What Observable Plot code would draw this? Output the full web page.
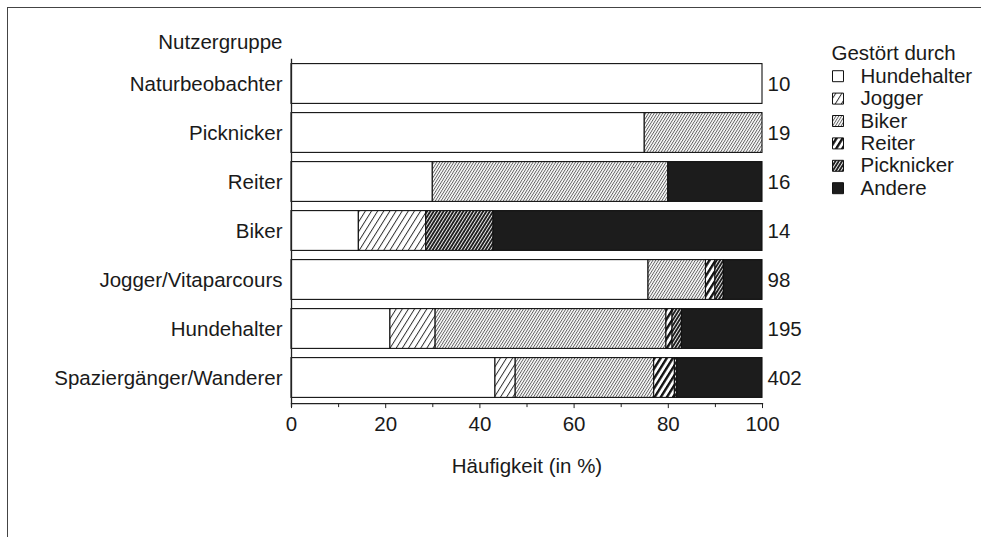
<!DOCTYPE html>
<html>
<head>
<meta charset="utf-8">
<script src="https://cdn.jsdelivr.net/npm/d3@7"></script>
<script src="https://cdn.jsdelivr.net/npm/@observablehq/plot@0.6"></script>
<style>
  html, body { margin: 0; padding: 0; background: #fff; }
  #wrap { position: relative; width: 981px; height: 537px; overflow: hidden; }
  #border { position: absolute; left: 7px; top: 7px; right: -5px; bottom: -5px;
            border-left: 1.5px solid #444; border-top: 1.5px solid #444; pointer-events: none; }
</style>
</head>
<body>
<div id="wrap"><div id="border"></div></div>
<script>
const groups = ["Naturbeobachter", "Picknicker", "Reiter", "Biker", "Jogger/Vitaparcours", "Hundehalter", "Spaziergänger/Wanderer"];
const ns = [10, 19, 16, 14, 98, 195, 402];
const causes = ["Hundehalter", "Jogger", "Biker", "Reiter", "Picknicker", "Andere"];
const hundehalter = [100, 75, 30, 14.3, 75.8, 21.0, 43.3];
const jogger      = [0,   0,  0,  14.3, 0,    9.6,  4.3];
const biker       = [0,   25, 50, 0,    12.2, 49.0, 29.4];
const reiter      = [0,   0,  0,  0,    2.0,  1.3,  4.4];
const picknicker  = [0,   0,  0,  14.3, 1.8,  2.0,  0.5];
const andere      = [0,   0,  20, 57.1, 8.2,  17.1, 18.1];
const xTicks = [0, 20, 40, 60, 80, 100];
const xMinorTicks = [10, 30, 50, 70, 90];

const series = [hundehalter, jogger, biker, reiter, picknicker, andere];
const rows = [];
groups.forEach((g, i) => causes.forEach((c, j) => {
  if (series[j][i] > 0) rows.push({group: g, cause: c, value: series[j][i]});
}));

const fills = ["#ffffff", "url(#p-jogger)", "url(#p-biker)", "url(#p-reiter)", "url(#p-pick)", "#1c1c1c"];
const fnt = "Liberation Sans, Arial, sans-serif";
const fs = 20.5;

const legendMarks = [
  Plot.text(["Gestört durch"], {frameAnchor: "top-right", dx: 69, dy: -6, textAnchor: "start", lineAnchor: "middle", fontSize: fs, fill: "#1a1a1a"})
];
causes.forEach((c, i) => {
  legendMarks.push(Plot.dot([c], {frameAnchor: "top-right", dx: 75.5, dy: 17 + 22.4 * i, symbol: "square", r: 6.2,
    fill: fills[i], stroke: "#111", strokeWidth: 1}));
  legendMarks.push(Plot.text([c], {frameAnchor: "top-right", dx: 98, dy: 17 + 22.4 * i, textAnchor: "start", lineAnchor: "middle", fontSize: fs, fill: "#1a1a1a"}));
});

const chart = Plot.plot({
  width: 981,
  height: 537,
  marginLeft: 291,
  marginRight: 219,
  marginTop: 58.7,
  marginBottom: 133.9,
  style: {fontFamily: fnt, fontSize: fs + "px", background: "transparent", color: "#1a1a1a"},
  x: {domain: [0, 100], axis: null},
  y: {domain: groups, padding: 0, axis: null},
  color: {domain: causes, range: fills},
  marks: [
    Plot.barX(rows, Plot.stackX({x: "value", y: "group", fill: "cause", order: null,
      stroke: "#111", strokeWidth: 1.1, insetTop: 4.6, insetBottom: 4.6})),
    Plot.text(groups, {x: () => 100, y: d => d, text: (d, i) => String(ns[i]), dx: 5, textAnchor: "start", fontSize: fs, fill: "#1a1a1a"}),
    Plot.axisY({tickSize: 0, tickPadding: 9, fontSize: fs, fill: "#1a1a1a", label: null}),
    Plot.ruleX([0], {stroke: "#222", strokeWidth: 1.3, insetBottom: -4}),
    Plot.frame({anchor: "bottom", stroke: "#222", strokeWidth: 1.3}),
    Plot.axisX({ticks: xTicks, tickSize: 5, tickPadding: 8, fontSize: fs, fill: "#1a1a1a", stroke: "#222", label: null}),
    Plot.axisX({ticks: xMinorTicks, tickSize: 4, text: null, stroke: "#222", label: null}),
    Plot.text(["Häufigkeit (in %)"], {x: () => 50, frameAnchor: "bottom", dy: 63, lineAnchor: "middle", fontSize: fs, fill: "#1a1a1a"}),
    Plot.text(["Nutzergruppe"], {frameAnchor: "top-left", dx: -9, dy: -17, textAnchor: "end", lineAnchor: "middle", fontSize: fs, fill: "#1a1a1a"}),
    ...legendMarks
  ]
});

chart.insertAdjacentHTML("afterbegin", `
<defs>
  <pattern id="p-jogger" patternUnits="userSpaceOnUse" width="5.2" height="10" patternTransform="rotate(32)">
    <rect width="5.2" height="10" fill="#fff"/><line x1="0.5" y1="0" x2="0.5" y2="10" stroke="#222" stroke-width="0.9"/>
  </pattern>
  <pattern id="p-biker" patternUnits="userSpaceOnUse" width="2.4" height="10" patternTransform="rotate(32)">
    <rect width="2.4" height="10" fill="#fff"/><line x1="0.5" y1="0" x2="0.5" y2="10" stroke="#333" stroke-width="0.8"/>
  </pattern>
  <pattern id="p-reiter" patternUnits="userSpaceOnUse" width="5.2" height="10" patternTransform="rotate(32)">
    <rect width="5.2" height="10" fill="#fff"/><line x1="1.2" y1="0" x2="1.2" y2="10" stroke="#111" stroke-width="2.4"/>
  </pattern>
  <pattern id="p-pick" patternUnits="userSpaceOnUse" width="2.8" height="10" patternTransform="rotate(32)">
    <rect width="2.8" height="10" fill="#fff"/><line x1="1" y1="0" x2="1" y2="10" stroke="#1a1a1a" stroke-width="1.9"/>
  </pattern>
</defs>`);

document.getElementById("wrap").prepend(chart);
</script>
</body>
</html>
